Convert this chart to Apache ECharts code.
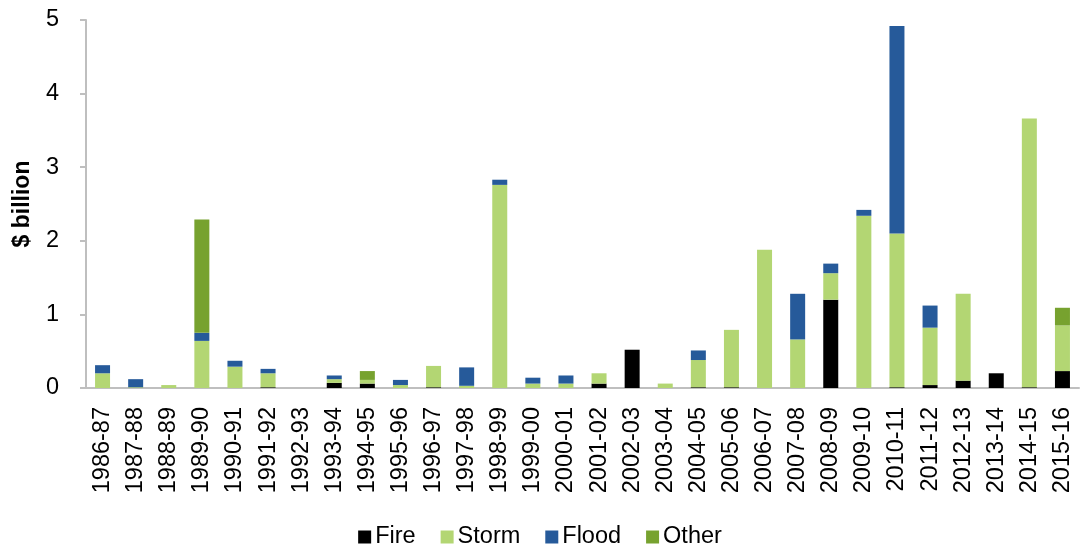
<!DOCTYPE html>
<html>
<head>
<meta charset="utf-8">
<title>Insured losses by event type</title>
<script src="https://cdn.jsdelivr.net/npm/echarts@6/dist/echarts.min.js"></script>
<style>
  html, body { margin: 0; padding: 0; background: #fff; }
  #chart { width: 1080px; height: 549px; }
</style>
</head>
<body>
<div id="chart"></div>
<script>
// Financial years
const years = ['1986-87','1987-88','1988-89','1989-90','1990-91','1991-92','1992-93','1993-94','1994-95','1995-96',
  '1996-97','1997-98','1998-99','1999-00','2000-01','2001-02','2002-03','2003-04','2004-05','2005-06',
  '2006-07','2007-08','2008-09','2009-10','2010-11','2011-12','2012-13','2013-14','2014-15','2015-16'];

// Losses, $ billion
const fire  = [0, 0, 0, 0, 0, 0.01, 0, 0.07, 0.06, 0, 0.01, 0, 0, 0, 0, 0.06, 0.52, 0, 0.01, 0.01, 0, 0, 1.20, 0, 0.01, 0.04, 0.10, 0.20, 0.01, 0.23];
const storm = [0.20, 0.01, 0.04, 0.64, 0.29, 0.19, 0, 0.05, 0.05, 0.04, 0.29, 0.03, 2.76, 0.06, 0.06, 0.14, 0, 0.06, 0.37, 0.78, 1.88, 0.66, 0.36, 2.34, 2.09, 0.78, 1.18, 0, 3.65, 0.62];
const flood = [0.11, 0.11, 0, 0.11, 0.08, 0.06, 0, 0.05, 0, 0.07, 0, 0.25, 0.07, 0.08, 0.11, 0, 0, 0, 0.13, 0, 0, 0.62, 0.13, 0.08, 2.82, 0.30, 0, 0, 0, 0];
const other = [0, 0, 0, 1.54, 0, 0, 0, 0, 0.12, 0, 0, 0, 0, 0, 0, 0, 0, 0, 0, 0, 0, 0, 0, 0, 0, 0, 0, 0, 0, 0.24];

const yTicks = [0, 1, 2, 3, 4, 5];

const FONT = 'Liberation Sans, Arial, sans-serif';
const FS = 23.5;
const chart = echarts.init(document.getElementById('chart'), null, { renderer: 'canvas' });

function bar(name, data, color) {
  return {
    name: name,
    type: 'bar',
    stack: 'total',
    data: data,
    barWidth: 15,
    itemStyle: { color: color },
    emphasis: { disabled: true }
  };
}

chart.setOption({
  animation: false,
  textStyle: { fontFamily: FONT },
  grid: { left: 86, right: 1, top: 20, bottom: 161, containLabel: false },
  legend: {
    top: 520,
    left: 'center',
    itemWidth: 13,
    itemHeight: 13,
    itemGap: 25,
    icon: 'rect',
    textStyle: { fontFamily: FONT, fontSize: FS, color: '#000', padding: [0, 0, 0, -1] },
    data: ['Fire', 'Storm', 'Flood', 'Other']
  },
  xAxis: {
    type: 'category',
    data: years,
    axisLine: { lineStyle: { color: '#bfbfbf', width: 2 } },
    axisTick: { show: false },
    axisLabel: { rotate: 90, fontSize: FS, color: '#000', fontFamily: FONT, margin: 19, interval: 0 }
  },
  yAxis: {
    type: 'value',
    min: yTicks[0],
    max: yTicks[yTicks.length - 1],
    interval: 1,
    name: '$ billion',
    nameLocation: 'middle',
    nameGap: 52,
    nameTextStyle: { fontSize: 23, fontWeight: 'bold', color: '#000', fontFamily: FONT },
    axisLine: { show: true, lineStyle: { color: '#bfbfbf', width: 2 } },
    axisTick: { show: true, length: 6, lineStyle: { color: '#bfbfbf', width: 2 } },
    splitLine: { show: false },
    axisLabel: { fontSize: FS, color: '#000', fontFamily: FONT, margin: 27 }
  },
  series: [
    bar('Fire', fire, '#000000'),
    bar('Storm', storm, '#b3d673'),
    bar('Flood', flood, '#265a9a'),
    bar('Other', other, '#77a22f')
  ]
});
</script>
</body>
</html>
